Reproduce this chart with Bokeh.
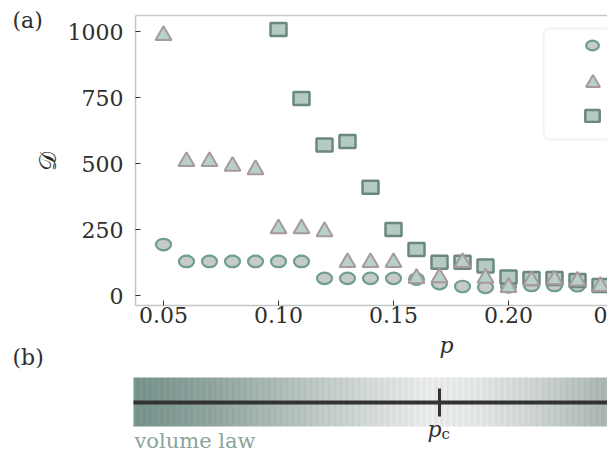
import math
import numpy as np
from bokeh.plotting import figure
from bokeh.models import (Range1d, FixedTicker, CustomJSTickFormatter, Label, Span,
                          Legend, LegendItem, BoxAnnotation, ColumnDataSource)
from bokeh.core.properties import value
from bokeh.layouts import column, row
from bokeh.embed import file_html
from bokeh.resources import INLINE

# ---------------- data ----------------
p_vals = [0.05, 0.06, 0.07, 0.08, 0.09, 0.10, 0.11, 0.12, 0.13, 0.14,
          0.15, 0.16, 0.17, 0.18, 0.19, 0.20, 0.21, 0.22, 0.23, 0.24]
circle_D = [193, 129, 129, 129, 129, 129, 129, 65, 65, 65,
            65, 62, 45, 34, 31, 33, 38, 38, 37, 36]
triangle_D = [985, 508, 508, 490, 477, 253, 253, 242, 125, 125,
              125, 65, 68, 125, 66, 31, 57, 60, 55, 35]
square_p = [0.10, 0.11, 0.12, 0.13, 0.14, 0.15, 0.16, 0.17, 0.18, 0.19,
            0.20, 0.21, 0.22, 0.23, 0.24]
square_D = [1008, 746, 570, 583, 410, 250, 174, 126, 126, 112,
            70, 64, 64, 57, 38]
x_ticks = [0.05, 0.10, 0.15, 0.20]
x_tick_labels = ["0.05", "0.10", "0.15", "0.20"]
cut_tick_label = "0"          # what is left of the 0.25 label at the cut edge
y_ticks = [0, 250, 500, 750, 1000]
p_critical = 0.17

# gradient stops of the phase bar (p, rgb)
grad_p = [0.037, 0.07, 0.105, 0.14, 0.165, 0.185, 0.215, 0.243]
grad_rgb = [(120, 149, 142), (146, 167, 162), (182, 194, 191), (215, 222, 220),
            (237, 240, 239), (232, 236, 235), (205, 213, 211), (172, 184, 181)]

# ---------------- styling ----------------
SERIF = "DejaVu Serif"
TXT = "#2e2e2e"
AXC = "#c3c7c6"
C_FILL, C_LINE = "#c6cbc9", "#6e9d92"
T_FILL, T_LINE = "#b7d0cc", "#a8999a"
S_FILL, S_LINE = "#b5c9c5", "#6a887f"

K = 0.05 / 115.0          # p per pixel


def px2p(px):
    return 0.05 + (px - 163) * K


def ay(py):            # page pixel row -> D value in panel (a)
    return (295 - py) * 1000.0 / 264.0


FRAME_TOP, FRAME_BOTTOM, FRAME_LEFT = 8, 305, 135
H1 = 332
WS = 64
XA0, XA1 = px2p(FRAME_LEFT), px2p(607)
YA0, YA1 = ay(FRAME_BOTTOM), ay(FRAME_TOP)

# ---------------- left strip: (a) and y label ----------------
ps = figure(width=WS, height=H1, x_range=Range1d(0, WS),
            y_range=Range1d(0, FRAME_BOTTOM - FRAME_TOP),
            output_backend="svg", toolbar_location=None,
            x_axis_location=None, y_axis_location=None,
            min_border_left=0, min_border_right=0, min_border_top=FRAME_TOP,
            min_border_bottom=H1 - FRAME_BOTTOM)
ps.grid.visible = False
ps.outline_line_color = None
ps.add_layout(Label(x=12, y=FRAME_BOTTOM - 7, text="(a)", text_font=SERIF, text_font_size="22px",
                    text_color=TXT, text_align="left", text_baseline="top"))
ps.add_layout(Label(x=47, y=FRAME_BOTTOM - 161, text="𝒟", text_font=SERIF, text_font_size="24px",
                    text_color=TXT, text_align="center", text_baseline="middle",
                    angle=math.pi / 2))

# ---------------- panel (a) ----------------
pa = figure(width=607 - WS, height=H1, x_range=Range1d(XA0, XA1), y_range=Range1d(YA0, YA1),
            output_backend="svg", toolbar_location=None,
            min_border_left=FRAME_LEFT - WS, min_border_right=0, min_border_top=FRAME_TOP,
            min_border_bottom=H1 - FRAME_BOTTOM)
pa.grid.visible = False
pa.outline_line_color = None

for axis in (pa.xaxis[0], pa.yaxis[0]):
    axis.axis_line_color = AXC
    axis.axis_line_width = 1.5
    axis.major_tick_in = 5
    axis.major_tick_out = 0
    axis.major_tick_line_color = "#333333"
    axis.minor_tick_line_color = None
    axis.major_label_text_font = SERIF
    axis.major_label_text_font_size = "22px"
    axis.major_label_text_color = TXT

pa.xaxis.ticker = FixedTicker(ticks=x_ticks + [XA1])
pa.xaxis.formatter = CustomJSTickFormatter(
    args=dict(vals=x_ticks, labs=x_tick_labels, last=cut_tick_label),
    code="""
for (let i = 0; i < vals.length; i++) { if (Math.abs(tick - vals[i]) < 1e-6) return labs[i]; }
return last;
""")
pa.xaxis.major_label_standoff = 1
pa.yaxis.ticker = FixedTicker(ticks=y_ticks)
pa.yaxis.major_label_standoff = 12
pa.yaxis.bounds = (YA0, ay(15))

# top frame line (at page row 15)
pa.add_layout(Span(location=ay(15), dimension="width", line_color=AXC, line_width=1.5))

src_c = ColumnDataSource(dict(p=p_vals, D=circle_D))
src_t = ColumnDataSource(dict(p=p_vals, D=triangle_D))
src_s = ColumnDataSource(dict(p=square_p, D=square_D))

r_c = pa.ellipse("p", "D", width=15, height=11.5, width_units="screen", height_units="screen",
                 source=src_c, fill_color=C_FILL, line_color=C_LINE, line_width=2.2)
r_s = pa.rect("p", "D", width=16, height=13, width_units="screen", height_units="screen",
              source=src_s, fill_color=S_FILL, line_color=S_LINE, line_width=2.5)
r_t = pa.scatter("p", "D", marker="triangle", size=16, source=src_t,
                 fill_color=T_FILL, line_color=T_LINE, line_width=2)

# legend frame (cut at the right edge like the reference)
pa.add_layout(BoxAnnotation(left=px2p(543), right=px2p(640), top=ay(28), bottom=ay(139),
                            fill_color="white", fill_alpha=1.0, line_color="#dce2e0",
                            line_width=2.5, border_radius=6))


def mini_legend(renderer, gw, gh, cx, cy):
    # cx, cy: page pixel centre of the legend glyph
    vx = cx - gw / 2 - FRAME_LEFT
    vy = FRAME_BOTTOM - (cy - gh / 2) - gh
    lg = Legend(items=[LegendItem(label=value(""), renderers=[renderer])],
                location=(vx, vy), glyph_width=gw, glyph_height=gh, label_height=gh,
                label_width=0, label_standoff=0, padding=0, margin=0, spacing=0,
                border_line_color=None, background_fill_alpha=0,
                label_text_font_size="6px")
    pa.add_layout(lg)


mini_legend(r_c, 16, 16, 592, 45)
mini_legend(r_t, 35, 35, 592, 82)
mini_legend(r_s, 18, 15, 592, 115)

# ---------------- panel (b) ----------------
HB = 451 - H1
XB0, XB1 = px2p(0), px2p(607)


def by(py):
    return 451 - py


pb = figure(width=607, height=HB, x_range=Range1d(XB0, XB1), y_range=Range1d(0, HB),
            output_backend="svg", toolbar_location=None,
            x_axis_location=None, y_axis_location=None,
            min_border_left=0, min_border_right=0, min_border_top=0, min_border_bottom=0)
pb.grid.visible = False
pb.outline_line_color = None

bar_left, bar_right = px2p(133), px2p(610)
N = 160
cols_p = np.linspace(bar_left, bar_right, N)
rgb = np.stack([np.interp(cols_p, grad_p, [c[k] for c in grad_rgb]) for k in range(3)], axis=-1)
stripe = np.where(np.arange(N) % 2 == 0, 1.0, 0.965)
rgb = np.clip(rgb * stripe[:, None], 0, 255)
img = np.empty((1, N), dtype=np.uint32)
view = img.view(dtype=np.uint8).reshape((1, N, 4))
view[0, :, 0] = rgb[:, 0]
view[0, :, 1] = rgb[:, 1]
view[0, :, 2] = rgb[:, 2]
view[0, :, 3] = 255
pb.image_rgba(image=[img], x=bar_left, y=by(426), dw=bar_right - bar_left, dh=by(377) - by(426))

pb.segment(x0=[bar_left], y0=[by(402)], x1=[bar_right], y1=[by(402)],
           line_color="#333333", line_width=4)
pb.segment(x0=[p_critical], y0=[by(416)], x1=[p_critical], y1=[by(388)],
           line_color="#333333", line_width=3)

pb.add_layout(Label(x=px2p(446), y=by(345), text="p", text_font=SERIF, text_font_style="italic",
                    text_font_size="22px", text_color=TXT, text_align="center",
                    text_baseline="middle"))
pb.add_layout(Label(x=px2p(12), y=by(357), text="(b)", text_font=SERIF, text_font_size="22px",
                    text_color=TXT, text_align="left", text_baseline="middle"))
pb.add_layout(Label(x=px2p(441), y=by(428.5), text="p", text_font=SERIF, text_font_style="italic",
                    text_font_size="22px", text_color=TXT, text_align="right",
                    text_baseline="middle"))
pb.add_layout(Label(x=px2p(441), y=by(433), text="c", text_font=SERIF,
                    text_font_size="15px", text_color=TXT, text_align="left",
                    text_baseline="middle"))
pb.add_layout(Label(x=px2p(134), y=by(440), text="volume law", text_font=SERIF,
                    text_font_size="21px", text_color="#8aa39b", text_align="left",
                    text_baseline="middle"))

layout = column(row(ps, pa, spacing=0), pb, spacing=0)
open("out.html", "w").write(file_html(layout, INLINE))
